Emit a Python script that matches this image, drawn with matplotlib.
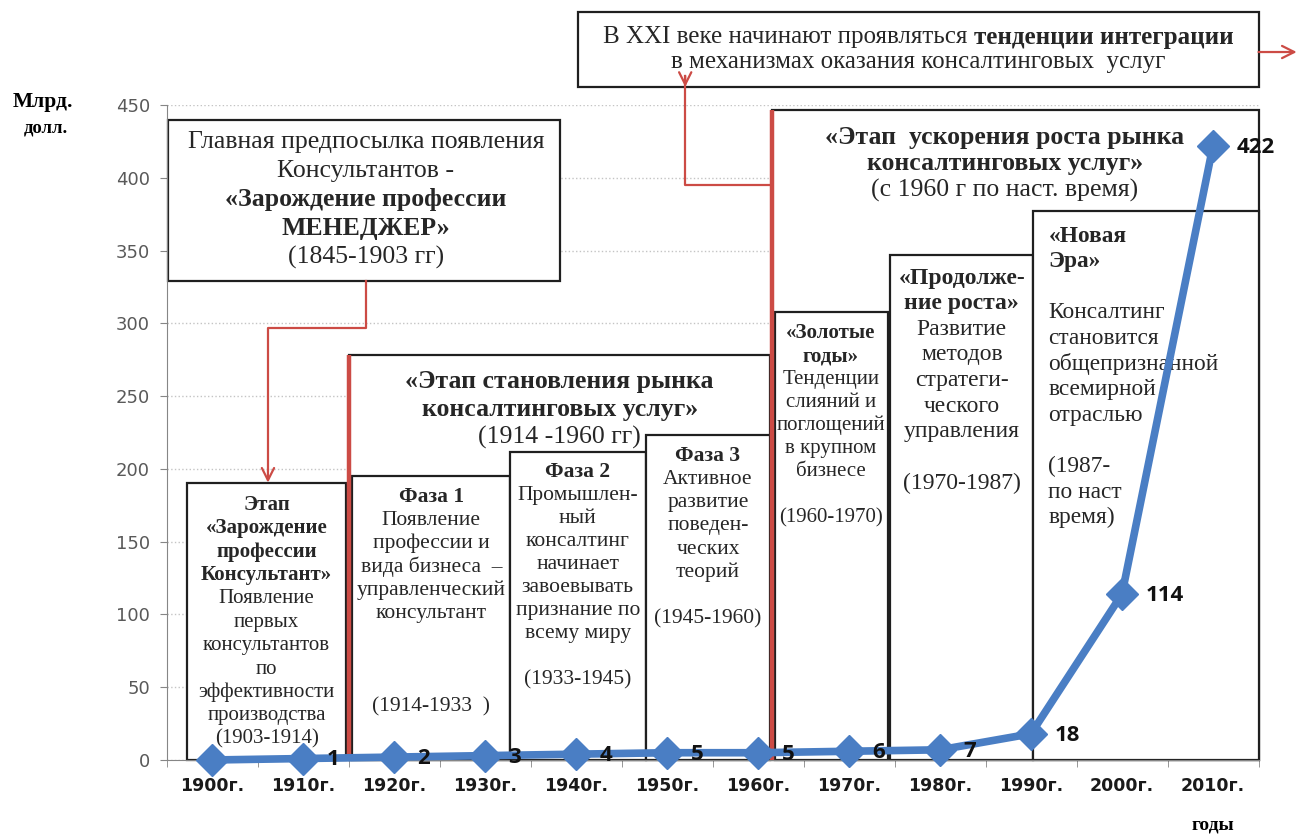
# Рынок консалтинговых услуг, 1900-2010 гг.
import numpy as np
import matplotlib.pyplot as plt
from matplotlib.patches import Rectangle

# data
years = ['1900г.', '1910г.', '1920г.', '1930г.', '1940г.', '1950г.',
         '1960г.', '1970г.', '1980г.', '1990г.', '2000г.', '2010г.']
values = [0, 1, 2, 3, 4, 5, 5, 6, 7, 18, 114, 422]
value_labels = ['', '1', '2', '3', '4', '5', '5', '6', '7', '18', '114', '422']

# box texts (first n rows are bold)
pre_rows = ['Главная предпосылка появления', 'Консультантов -',
            '«Зарождение профессии', 'МЕНЕДЖЕР»', '(1845-1903 гг)']
stage1_rows = ['Этап', '«Зарождение', 'профессии', 'Консультант»', 'Появление',
               'первых', 'консультантов', 'по', 'эффективности', 'производства',
               '(1903-1914)']
stage2_rows = ['«Этап становления рынка', 'консалтинговых услуг»', '(1914 -1960 гг)']
phase1_rows = ['Фаза 1', 'Появление', 'профессии и', 'вида бизнеса  –',
               'управленческий', 'консультант', '', '', '', '(1914-1933  )']
phase2_rows = ['Фаза 2', 'Промышлен-', 'ный', 'консалтинг', 'начинает',
               'завоевывать', 'признание по', 'всему миру', '', '(1933-1945)']
phase3_rows = ['Фаза 3', 'Активное', 'развитие', 'поведен-', 'ческих',
               'теорий', '', '(1945-1960)']
stage3_rows = ['«Этап  ускорения роста рынка', 'консалтинговых услуг»',
               '(с 1960 г по наст. время)']
golden_rows = ['«Золотые', 'годы»', 'Тенденции', 'слияний и', 'поглощений',
               'в крупном', 'бизнесе', '', '(1960-1970)']
growth_rows = ['«Продолже-', 'ние роста»', 'Развитие', 'методов', 'стратеги-',
               'ческого', 'управления', '', '(1970-1987)']
newera_rows = ['«Новая', 'Эра»', '', 'Консалтинг', 'становится', 'общепризнанной',
               'всемирной', 'отраслью', '', '(1987-', 'по наст', 'время)']
top_normal = 'В XXI веке начинают проявляться'
top_bold = 'тенденции интеграции'
top_line2 = 'в механизмах оказания консалтинговых  услуг'

SERIF = ['Liberation Serif', 'DejaVu Serif']
SANS = ['Open Sans', 'DejaVu Sans']
RED = '#cc4b45'
BLUE = '#4a7ec4'
TXT = '#262626'

fig = plt.figure(figsize=(12.98, 8.36), dpi=100)
ax = fig.add_axes([166.5/1298, 76/836, 1092/1298, 655/836])
x = np.arange(len(years))

ax.set_xlim(-0.5, 11.5)
ax.set_ylim(0, 450)
ax.set_yticks(np.arange(0, 451, 50))
ax.set_xticks(x)
ax.set_xticklabels(years, fontsize=12.5, fontweight='bold', family='DejaVu Sans',
                   color='#1a1a1a')
ax.set_xticks(np.arange(-0.5, 12, 1), minor=True)
ax.tick_params(axis='x', which='major', length=0, pad=12)
ax.tick_params(axis='x', which='minor', length=5, color='#868686')
ax.tick_params(axis='y', length=5, color='#868686', labelcolor='#595959', pad=7)
for t in ax.get_yticklabels():
    t.set_family('DejaVu Sans')
    t.set_fontsize(13)
for s in ['top', 'right']:
    ax.spines[s].set_visible(False)
for s in ['left', 'bottom']:
    ax.spines[s].set_color('#868686')
ax.yaxis.grid(True, ls=':', color='#c4c4c4', lw=1)
ax.set_axisbelow(True)


def box(x0, x1, y0, y1, lw=1.6):
    ax.add_patch(Rectangle((x0, y0), x1 - x0, y1 - y0, fc='white', ec='#1f1f1f',
                           lw=lw, zorder=2, clip_on=False))


def rows(xc, ytop, items, bold, size, step, ha='center'):
    for i, s in enumerate(items):
        ax.text(xc, ytop - i * step, s, ha=ha, va='center', fontsize=size,
                family=SERIF, fontweight='bold' if i in bold else 'normal',
                color=TXT, zorder=3, clip_on=False)


def arrow(tip, start):
    ax.annotate('', xy=tip, xytext=start, zorder=4, annotation_clip=False,
                arrowprops=dict(arrowstyle='->', color=RED, lw=1.6,
                                mutation_scale=22, shrinkA=0, shrinkB=0))


# premise box with connector
box(-0.48, 3.82, 329, 440)
rows(1.69, 424.6, pre_rows, (2, 3), 18.5, 19.8)
ax.plot([1.69, 1.69, 0.615, 0.615], [329, 297, 297, 200], color=RED, lw=1.6,
        zorder=4, clip_on=False)
arrow((0.615, 190.5), (0.615, 200))

# stage 1
box(-0.275, 1.47, 0, 190)
rows(0.60, 175.2, stage1_rows, range(4), 15, 16.1)

# stage 2 with phases
box(1.505, 6.13, 0, 278)
rows(3.82, 259.7, stage2_rows, range(2), 18.5, 19.2)
box(1.54, 3.27, 0, 195)
rows(2.41, 180.7, phase1_rows, (0,), 15.5, 16.0)
box(3.27, 4.77, 0, 211.6)
rows(4.02, 197.9, phase2_rows, (0,), 15.5, 15.9)
box(4.77, 6.13, 0, 223.3)
rows(5.45, 208.9, phase3_rows, (0,), 15.5, 16.0)

# stage 3 with sub-periods
box(6.154, 11.5, 0, 446.5)
rows(8.71, 428, stage3_rows, range(2), 18.5, 18.2)
box(6.19, 7.43, 0, 307.8)
rows(6.80, 293.3, golden_rows, range(2), 15, 15.9)
box(7.45, 9.02, 0, 347)
rows(8.24, 331.1, growth_rows, range(2), 17, 17.6)
box(9.02, 11.5, 0, 377)
rows(9.19, 360, newera_rows, range(2), 16.8, 17.6, ha='left')

# red stage boundaries
ax.plot([1.505, 1.505], [0, 278], color=RED, lw=3.2, zorder=4, solid_capstyle='butt')
ax.plot([6.154, 6.154], [0, 446.5], color=RED, lw=3.2, zorder=4,
        solid_capstyle='butt', clip_on=False)
ax.plot([6.154, 5.2, 5.2], [395, 395, 470], color=RED, lw=1.6, zorder=4, clip_on=False)
arrow((5.2, 462.4), (5.2, 470))

# XXI century box, first line centred from measured widths
box(4.02, 11.5, 462.4, 513.9)
t1 = ax.text(0, 496.7, top_normal, ha='left', va='center', fontsize=18, family=SERIF,
             color=TXT, clip_on=False, zorder=3)
t2 = ax.text(0, 496.7, top_bold, ha='left', va='center', fontsize=18, family=SERIF,
             fontweight='bold', color=TXT, clip_on=False, zorder=3)
r = fig.canvas.get_renderer()
ppu = ax.transData.transform((1, 0))[0] - ax.transData.transform((0, 0))[0]
w1 = t1.get_window_extent(r).width / ppu
w2 = t2.get_window_extent(r).width / ppu
gap = 6 / ppu
x_start = (4.02 + 11.5) / 2 - (w1 + gap + w2) / 2
t1.set_x(x_start)
t2.set_x(x_start + w1 + gap)
ax.text(7.76, 479.5, top_line2, ha='center', va='center', fontsize=18, family=SERIF,
        color=TXT, clip_on=False, zorder=3)
arrow((11.92, 486.4), (11.5, 486.4))

# series
ax.plot(x, values, color=BLUE, lw=5.5, marker='D', ms=16, zorder=5, clip_on=False)
for xi, v, lab in zip(x, values, value_labels):
    ax.annotate(lab, (xi, v), xytext=(17, -1), textcoords='offset points',
                ha='left', va='center', fontsize=16, fontweight='bold',
                family=SANS, color='#111111', zorder=6, annotation_clip=False)

# axis titles
fig.text(43/1298, 1 - 102/836, 'Млрд.', ha='center', va='center', fontsize=15.5,
         fontweight='bold', family=SERIF)
fig.text(46/1298, 1 - 128/836, 'долл.', ha='center', va='center', fontsize=13.5,
         fontweight='bold', family=SERIF)
fig.text(1213/1298, 1 - 825/836, 'годы', ha='center', va='center', fontsize=14,
         fontweight='bold', family=SERIF)

plt.savefig('out.png', dpi=100)
